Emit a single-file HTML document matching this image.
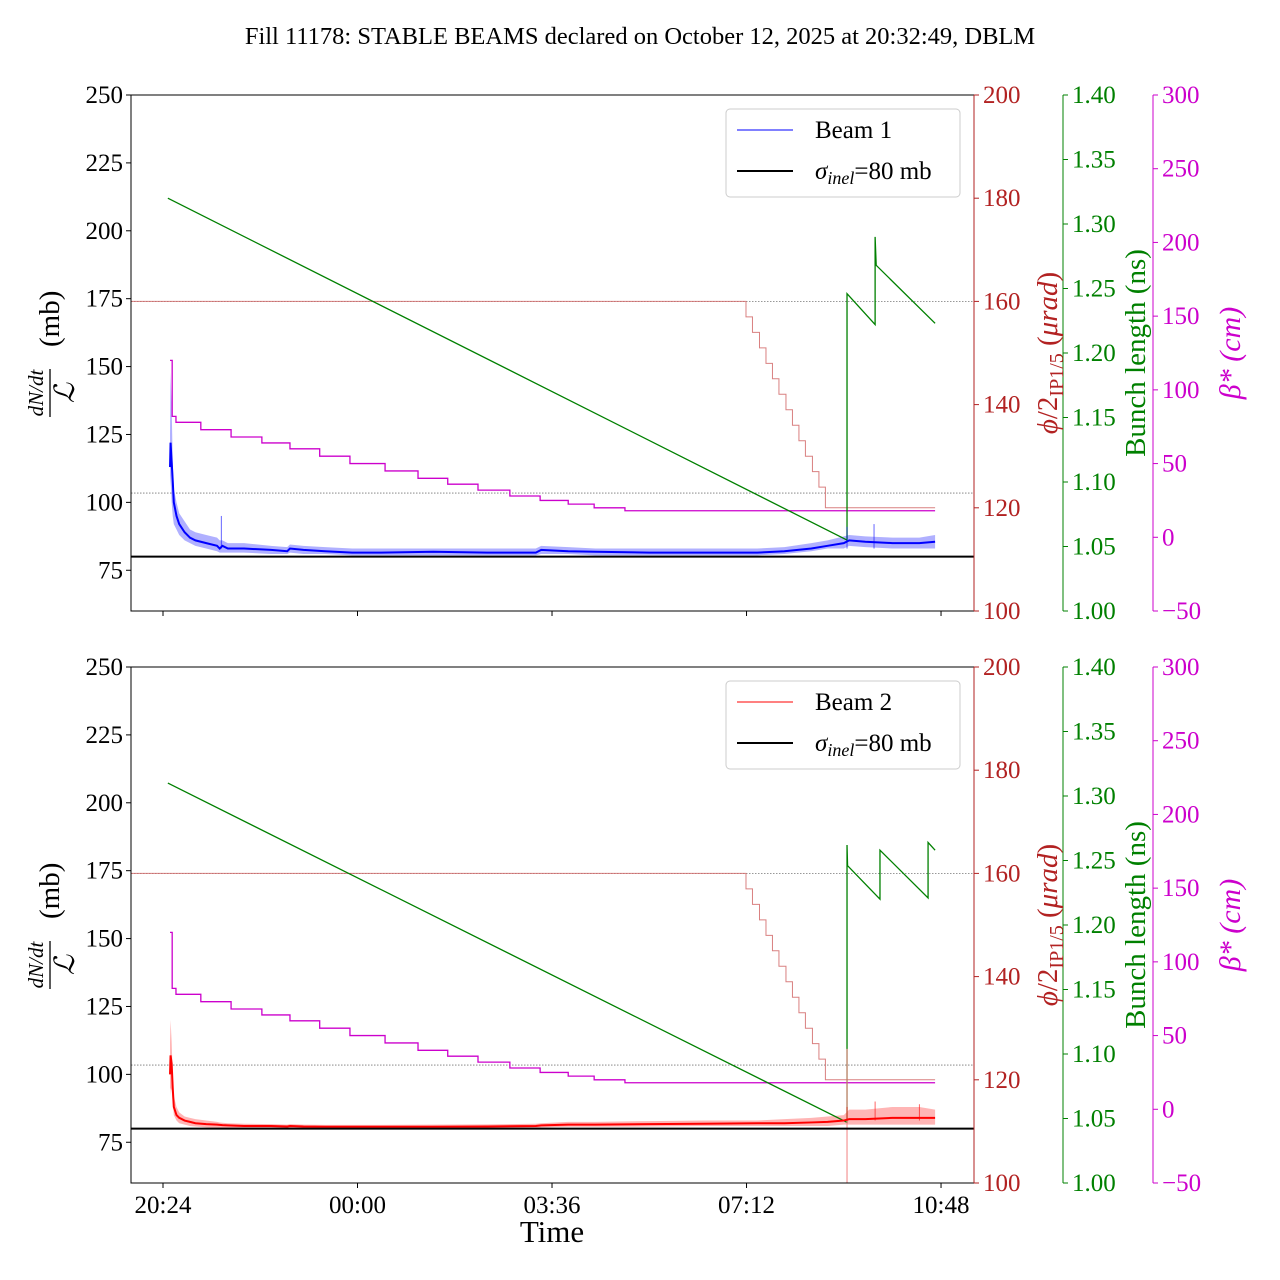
<!DOCTYPE html>
<html><head><meta charset="utf-8"><style>
html,body{margin:0;padding:0;background:#fff;}
svg{display:block;font-family:"Liberation Serif",serif;}
</style></head><body>
<svg id="chart" width="1280" height="1280" xmlns="http://www.w3.org/2000/svg">
<text x="640" y="44" font-size="24.5" text-anchor="middle">Fill 11178: STABLE BEAMS declared on October 12, 2025 at 20:32:49, DBLM</text>
</svg>
<script>
// time in hours since 20:24
const xTickLabels = ["20:24","00:00","03:36","07:12","10:48"];
const xTickHours = [0,3.6,7.2,10.8,14.4];
const leftTicks = [75,100,125,150,175,200,225,250];
const redTicks = [100,120,140,160,180,200];
const greenTicks = [1.00,1.05,1.10,1.15,1.20,1.25,1.30,1.35,1.40];
const magTicks = [-50,0,50,100,150,200,250,300];

const dnT = [0.13,0.14,0.16,0.18,0.2,0.25,0.3,0.4,0.5,0.6,0.8,1.0,1.05,1.1,1.2,1.5,2.0,2.3,2.35,2.6,3,3.5,4,5,6,6.9,7,7.5,8,9,10,11,11.5,12,12.3,12.6,12.7,13,13.5,14,14.29];
const beam1Val = [113,122,115,108,100,95,92,89,87,86,85,84,83,84,83,83,82.5,82,83,82.5,82,81.5,81.5,81.8,81.5,81.5,82.5,82,81.8,81.5,81.5,81.5,82,83,84,85,86,85.5,85,85,85.5];
const beam1Up = [125,148,135,115,105,100,96,93,90,89,88,87,86,86,85,85,84,83.5,84.5,84,83.5,83,83,83,83,83,84,83.5,83,83,83,83,83.5,85,86,87.5,88,87.5,87,87,88];
const beam1Lo = [105,110,100,95,92,90,88,86,85,84,83,82,81.5,81.5,81.5,81.5,81,81,81.5,81,81,80.5,80.5,80.5,80.5,80.5,81,81,80.5,80.5,80.5,80.5,81,82,83,83,84,83.5,83,83,83];
const beam2Val = [100,107,104,95,88,85,84,83,82.5,82,81.7,81.5,81.4,81.3,81.2,81,81,80.8,81,80.8,80.7,80.7,80.7,80.7,80.8,81,81.2,81.5,81.5,81.7,81.8,82,82,82.3,82.5,83,83.5,83.5,84,84,84];
const beam2Up = [112,120,112,100,92,88,86,84.5,84,83.5,83,82.5,82.3,82.2,82,81.8,81.7,81.5,81.7,81.5,81.4,81.4,81.4,81.5,81.6,81.8,82,82.5,82.5,82.8,83,83,83.5,84,84.5,85,87,87,88,88,87];
const beam2Lo = [92,95,94,90,85,83,82,81.5,81,80.8,80.5,80.3,80.2,80.2,80.1,80,80,80,80.2,80,80,80,80,80,80,80.2,80.5,80.7,80.7,80.8,81,81,81,81,81,81.5,81.5,81.5,81.5,81.5,81.5];
const spike1T = [1.08,12.66,13.16];
const spike1V = [95,91,92];
const spike2T = [12.66,13.18,14.0];
const spike2V = [88,90,89];

const phiT = [-0.6,10.79,10.91,11.04,11.16,11.28,11.40,11.53,11.65,11.77,11.89,12.02,12.14,12.26,14.29];
const phiV = [160,157,154,151,148,145,142,139,136,133,130,127,124,120,120];

const betaT = [0.13,0.17,0.24,0.70,1.26,1.83,2.35,2.90,3.46,4.11,4.72,5.27,5.83,6.42,6.98,7.50,7.98,8.55,9.16,14.29];
const betaV = [120,82,78,73,68,64,60,55,50,45,40,36,32,28,25,22.5,20,18,18,18];

const bl1T = [0.09,12.66,12.66,13.18,13.18,13.2,14.29];
const bl1V = [1.32,1.055,1.246,1.222,1.29,1.268,1.223];
const bl2T = [0.09,12.66,12.66,12.67,13.27,13.27,14.16,14.16,14.29];
const bl2V = [1.31,1.047,1.262,1.246,1.22,1.258,1.221,1.264,1.258];

const NS = "http://www.w3.org/2000/svg";
const svg = document.getElementById('chart');
function mk(tag, attrs, parent){const e=document.createElementNS(NS,tag);for(const k in attrs)e.setAttribute(k,attrs[k]);(parent||svg).appendChild(e);return e;}

const X0=131, X1=974, FS=25;
function xs(t){return 163 + t*54.03;}

function panel(top, idx){
  const bot = top+516;
  const yL = v => top + (250-v)*516/190;
  const yR = v => top + (200-v)*5.16;
  const yG = v => top + (1.40-v)*1290;
  const yM = v => top + (300-v)*516/350;
  const g = mk('g',{});
  
  
  [yR(160), yM(30)].forEach(y=>{
    const l=mk('line',{x1:X0,x2:X1,y1:y,y2:y,stroke:'#777','stroke-width':0.8,'stroke-dasharray':'1.5,1.5'},g);
    
    
  });
  const col = idx===1?'#0000ff':'#ff0000';
  const band = idx===1?'rgba(80,80,255,0.45)':'rgba(255,90,90,0.45)';
  const T=dnT, V=idx===1?beam1Val:beam2Val, U=idx===1?beam1Up:beam2Up, L=idx===1?beam1Lo:beam2Lo;
  let d='';
  T.forEach((t,i)=>{d+=(i?'L':'M')+xs(t)+','+yL(U[i]);});
  for(let i=T.length-1;i>=0;i--) d+='L'+xs(T[i])+','+yL(L[i]);
  const b=mk('path',{d:d+'Z',fill:band,stroke:'none'},g);
  
  
  let pd='';
  phiT.forEach((t,i)=>{const x=Math.max(X0,xs(t));if(i===0)pd='M'+x+','+yR(phiV[0]);else pd+='L'+x+','+yR(phiV[i-1])+'L'+x+','+yR(phiV[i]);});
  const ph=mk('path',{d:pd,fill:'none',stroke:'#d06060','stroke-width':1,opacity:0.8},g);
  
  
  let bd='';
  betaT.forEach((t,i)=>{const x=xs(t);if(i===0)bd='M'+x+','+yM(betaV[0]);else bd+='L'+x+','+yM(betaV[i-1])+'L'+x+','+yM(betaV[i]);});
  const be=mk('path',{d:bd,fill:'none',stroke:'#cc00cc','stroke-width':1.3},g);
  
  
  const GT=idx===1?bl1T:bl2T, GV=idx===1?bl1V:bl2V;
  let gd='';
  GT.forEach((t,i)=>{gd+=(i?'L':'M')+xs(t)+','+yG(GV[i]);});
  const gr=mk('path',{d:gd,fill:'none',stroke:'#008000','stroke-width':1.3},g);
  
  
  if(idx===2){
    const sp=mk('line',{x1:xs(12.66),x2:xs(12.66),y1:yR(126),y2:bot,stroke:'#f08080','stroke-width':1},g);
    
    
  }
  let md='';
  T.forEach((t,i)=>{md+=(i?'L':'M')+xs(t)+','+yL(V[i]);});
  const ml=mk('path',{d:md,fill:'none',stroke:col,'stroke-width':2},g);
  
  
  const ST=idx===1?spike1T:spike2T, SV=idx===1?spike1V:spike2V;
  ST.forEach((t,i)=>{
    const s=mk('line',{x1:xs(t),x2:xs(t),y1:yL(SV[i]),y2:yL(83),stroke:col,'stroke-width':1,opacity:0.6},g);
    
    
  });
  const si=mk('line',{x1:X0,x2:X1,y1:yL(80),y2:yL(80),stroke:'#000','stroke-width':2},g);
  
  
  const fr=mk('rect',{x:X0,y:top,width:X1-X0,height:516,fill:'none',stroke:'#000','stroke-width':1},g);
  
  
  leftTicks.forEach(v=>{const y=yL(v);
    mk('line',{x1:X0-5,x2:X0,y1:y,y2:y,stroke:'#000'},g);
    const t=mk('text',{x:X0-8,y:y+8,'font-size':FS,'text-anchor':'end'},g);t.textContent=v;
    });
  mk('line',{x1:X1,x2:X1,y1:top,y2:bot,stroke:'#b22222'},g);
  redTicks.forEach(v=>{const y=yR(v);
    mk('line',{x1:X1,x2:X1+5,y1:y,y2:y,stroke:'#b22222'},g);
    const t=mk('text',{x:X1+9,y:y+8,'font-size':FS,fill:'#b22222'},g);t.textContent=v;
    });
  const GX=1063;
  mk('line',{x1:GX,x2:GX,y1:top,y2:bot,stroke:'#008000'},g);
  greenTicks.forEach(v=>{const y=yG(v);
    mk('line',{x1:GX,x2:GX+5,y1:y,y2:y,stroke:'#008000'},g);
    const t=mk('text',{x:GX+9,y:y+8,'font-size':FS,fill:'#008000'},g);t.textContent=v.toFixed(2);
    });
  const MX=1153;
  mk('line',{x1:MX,x2:MX,y1:top,y2:bot,stroke:'#cc00cc'},g);
  magTicks.forEach(v=>{const y=yM(v);
    mk('line',{x1:MX,x2:MX+5,y1:y,y2:y,stroke:'#cc00cc'},g);
    const t=mk('text',{x:MX+9,y:y+8,'font-size':FS,fill:'#cc00cc'},g);t.textContent=(v<0?'\u2212'+(-v):v);
    });
  xTickHours.forEach((h,i)=>{const x=xs(h);
    mk('line',{x1:x,x2:x,y1:bot,y2:bot+5,stroke:'#000'},g);
    if(idx===2){const t=mk('text',{x:x,y:bot+30,'font-size':FS,'text-anchor':'middle'},g);t.textContent=xTickLabels[i];
      }
  });
  const cy=top+258;
  const lg=mk('g',{transform:`translate(62,${cy}) rotate(-90)`},g);
  
  
  const f1=mk('text',{x:-40,y:-19,'font-size':21,'font-style':'italic','text-anchor':'middle'},lg);f1.textContent='dN/dt';
  mk('line',{x1:-64,x2:-16,y1:-12,y2:-12,stroke:'#000','stroke-width':1.3},lg);
  const f2=mk('text',{x:-40,y:12,'font-size':28,'font-style':'italic','text-anchor':'middle'},lg);f2.textContent='\u2112';
  const f3=mk('text',{x:6,y:-3,'font-size':29},lg);f3.textContent='(mb)';
  const rl=mk('text',{transform:`translate(1057,${cy}) rotate(-90)`,'font-size':29,fill:'#b22222','text-anchor':'middle'},g);
  rl.innerHTML='<tspan font-style="italic">\u03D5</tspan>/2<tspan font-size="20" dy="6">IP1/5</tspan><tspan dy="-6"> (</tspan><tspan font-style="italic">\u03BCrad</tspan>)';
  
  const gl=mk('text',{transform:`translate(1145,${cy}) rotate(-90)`,'font-size':29,fill:'#008000','text-anchor':'middle'},g);
  gl.textContent='Bunch length (ns)';
  
  const ml2=mk('text',{transform:`translate(1240,${cy}) rotate(-90)`,'font-size':30,fill:'#cc00cc','text-anchor':'middle','font-style':'italic'},g);
  ml2.textContent='\u03B2* (cm)';
  
  const leg=mk('g',{},g);
  
  
  mk('rect',{x:726,y:top+14,width:234,height:88,rx:4,fill:'#fff',stroke:'#ccc'},leg);
  mk('line',{x1:737,x2:793,y1:top+35,y2:top+35,stroke:col,'stroke-width':1},leg);
  const lt=mk('text',{x:815,y:top+43,'font-size':FS},leg);lt.textContent='Beam '+idx;
  
  mk('line',{x1:737,x2:793,y1:top+76,y2:top+76,stroke:'#000','stroke-width':2},leg);
  const lt2=mk('text',{x:815,y:top+84,'font-size':FS},leg);
  lt2.innerHTML='<tspan font-style="italic">\u03C3</tspan><tspan font-style="italic" font-size="18" dy="5">inel</tspan><tspan dy="-5">=80 mb</tspan>';
  
}
panel(95,1);
panel(667,2);
const xl=mk('text',{x:552,y:1242,'font-size':31,'text-anchor':'middle'});
xl.textContent='Time';


</script>
</body></html>
